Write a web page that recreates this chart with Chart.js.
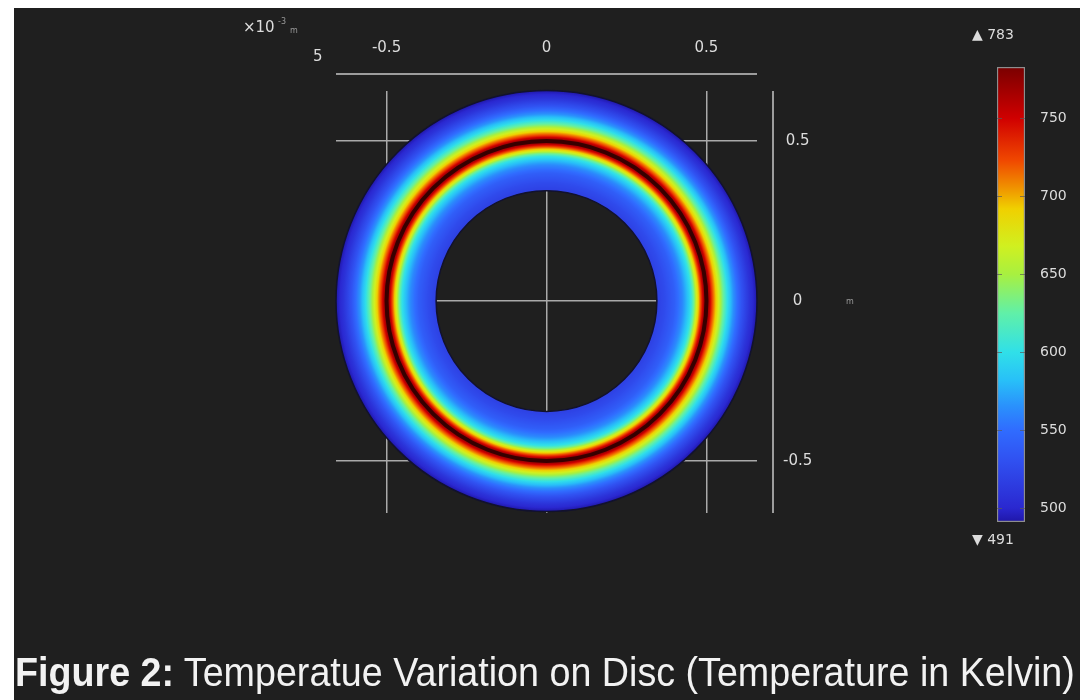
<!DOCTYPE html>
<html>
<head>
<meta charset="utf-8">
<script src="https://cdn.jsdelivr.net/npm/chart.js@4.4.1/dist/chart.umd.min.js"></script>
<style>
  html, body { margin: 0; padding: 0; background: #fff; }
  #page { position: absolute; left: 14px; top: 8px; width: 1066px; height: 692px; background: #1f1f1f; }
  #mainBox { position: absolute; left: 0; top: 0; width: 1081px; height: 700px; }
  #barBox { position: absolute; left: 960px; top: 0; width: 121px; height: 700px; }
  #caption { position: absolute; left: 15px; top: 652px; white-space: nowrap; color: #f2f2f2;
             font-family: "Liberation Sans", sans-serif; font-size: 41px; line-height: 1; transform-origin: 0 0; }
  #caption b { font-weight: 700; }
</style>
</head>
<body>
<div id="page"></div>
<div id="mainBox"><canvas id="disc"></canvas></div>
<div id="barBox"><canvas id="cbar"></canvas></div>
<div id="caption"><b>Figure 2:</b> Temperatue Variation on Disc (Temperature in Kelvin)</div>
<script>
  // radial temperature profile across the disc (x10^-3 m, K)
  const radius      = [0.345, 0.37, 0.40, 0.425, 0.44, 0.452, 0.462, 0.472, 0.482, 0.491, 0.5, 0.509, 0.518, 0.527, 0.538, 0.55, 0.566, 0.585, 0.61, 0.635, 0.658];
  const temperature = [518,   526,  540,  562,   582,  602,   635,   680,   722,   762,   783, 762,   726,   700,   668,   635,  598,   565,   532,  508,   491];

  const xTicks = [-0.5, 0, 0.5];
  const yTicks = [-0.5, 0, 0.5];

  const tMin = 491, tMax = 783;
  const barTicks = [500, 550, 600, 650, 700, 750];

  // rainbow colour table
  const cmapT = [491, 500, 530, 550, 565, 582, 600, 625, 650, 668, 692, 706, 723, 750, 783];
  const cmapC = ['#1f16a8', '#2a28d0', '#3050f0', '#306cff', '#2a90fc', '#28c0f8', '#30e0e8', '#60f0a8',
                 '#a8f040', '#d0f020', '#f0d000', '#f09000', '#f04800', '#d00000', '#7a0000'];

  const txt = '#dcdcdc';

  function rgb(h) { return [1, 3, 5].map(i => parseInt(h.slice(i, i + 2), 16)); }
  function cmap(t) {
    let i = 0;
    while (i < cmapT.length - 2 && t > cmapT[i + 1]) i++;
    const f = Math.max(0, Math.min(1, (t - cmapT[i]) / (cmapT[i + 1] - cmapT[i])));
    const a = rgb(cmapC[i]), b = rgb(cmapC[i + 1]);
    return 'rgb(' + a.map((v, k) => Math.round(v + (b[k] - v) * f)).join(',') + ')';
  }
  function interp(xs, ys, x) {
    let i = 0;
    while (i < xs.length - 2 && x > xs[i + 1]) i++;
    const f = (x - xs[i]) / (xs[i + 1] - xs[i]);
    return ys[i] + (ys[i + 1] - ys[i]) * f;
  }

  const discPlugin = {
    id: 'disc',
    beforeDatasetsDraw(chart) {
      const { ctx, scales: { x, y } } = chart;
      const cx = x.getPixelForValue(0), cy = y.getPixelForValue(0);
      const px = r => x.getPixelForValue(r) - cx;
      const last = radius.length - 1;
      const rIn = px(radius[0]), rOut = px(radius[last]);
      const g = ctx.createRadialGradient(cx, cy, rIn, cx, cy, rOut);
      const steps = 240;
      for (let i = 0; i <= steps; i++) {
        const r = radius[0] + (radius[last] - radius[0]) * i / steps;
        g.addColorStop(i / steps, cmap(interp(radius, temperature, r)));
      }
      ctx.save();
      ctx.beginPath();
      ctx.arc(cx, cy, rOut, 0, Math.PI * 2);
      ctx.arc(cx, cy, rIn, 0, Math.PI * 2, true);
      ctx.fillStyle = g;
      ctx.fill();
      // boundaries
      ctx.strokeStyle = '#12122e';
      ctx.lineWidth = 1.5;
      [rIn, rOut].forEach(r => { ctx.beginPath(); ctx.arc(cx, cy, r, 0, Math.PI * 2); ctx.stroke(); });
      const peak = radius[temperature.indexOf(Math.max(...temperature))];
      ctx.strokeStyle = 'rgba(45,0,0,0.9)';
      ctx.lineWidth = 4;
      ctx.beginPath(); ctx.arc(cx, cy, px(peak), 0, Math.PI * 2); ctx.stroke();
      ctx.restore();
    },
    afterDraw(chart) {
      const { ctx, chartArea: a } = chart;
      ctx.save();
      ctx.strokeStyle = '#9c9c9c';
      ctx.lineWidth = 2;
      ctx.beginPath();
      ctx.moveTo(a.left, a.top - 17); ctx.lineTo(a.right, a.top - 17);
      ctx.moveTo(a.right + 16, a.top); ctx.lineTo(a.right + 16, a.bottom);
      ctx.stroke();
      ctx.fillStyle = txt;
      ctx.textBaseline = 'middle';
      ctx.font = '15px "DejaVu Sans"';
      ctx.fillText('\u00d710', 243, 28);
      ctx.fillText('5', 313, 57);
      ctx.fillStyle = '#9a9a9a';
      ctx.font = '8px "DejaVu Sans"';
      ctx.fillText('-3', 278, 22);
      ctx.fillText('m', 290, 31);
      ctx.fillText('m', 846, 302);
      ctx.restore();
    }
  };

  new Chart(document.getElementById('disc'), {
    type: 'scatter',
    data: { datasets: [] },
    options: {
      responsive: true,
      maintainAspectRatio: false,
      animation: false,
      layout: { padding: { left: 336, top: 0, right: 224, bottom: 187 } },
      plugins: { legend: { display: false }, tooltip: { enabled: false } },
      scales: {
        x: {
          type: 'linear', position: 'top', min: -0.658, max: 0.658,
          afterBuildTicks: s => { s.ticks = xTicks.map(v => ({ value: v })); },
          afterFit: s => { s.height = 91; },
          grid: { color: '#a9a9a9', lineWidth: 1.5, drawTicks: false },
          border: { display: false },
          ticks: { color: txt, font: { family: 'DejaVu Sans', size: 15 }, padding: 34, maxRotation: 0,
                   callback: v => String(v) }
        },
        y: {
          type: 'linear', position: 'right', min: -0.662, max: 0.656,
          afterBuildTicks: s => { s.ticks = yTicks.map(v => ({ value: v })); },
          afterFit: s => { s.width = 100; },
          grid: { color: '#a9a9a9', lineWidth: 1.5, drawTicks: false },
          border: { display: false },
          ticks: { color: txt, font: { family: 'DejaVu Sans', size: 15 }, padding: 26, crossAlign: 'center',
                   callback: v => String(v) }
        }
      }
    },
    plugins: [discPlugin]
  });

  function barGradient(chart) {
    const { ctx, chartArea, scales } = chart;
    if (!chartArea) return null;
    const y = scales.y;
    const g = ctx.createLinearGradient(0, y.getPixelForValue(tMin), 0, y.getPixelForValue(tMax));
    cmapT.forEach((t, i) => g.addColorStop((t - tMin) / (tMax - tMin), cmapC[i]));
    return g;
  }

  const barPlugin = {
    id: 'barLabels',
    afterDatasetsDraw(chart) {
      const { ctx, chartArea: a, scales: { y } } = chart;
      ctx.save();
      ctx.strokeStyle = 'rgba(90,90,90,0.7)';
      ctx.lineWidth = 1;
      barTicks.forEach(t => {
        const py = Math.round(y.getPixelForValue(t)) + 0.5;
        ctx.beginPath();
        ctx.moveTo(a.left, py); ctx.lineTo(a.left + 5, py);
        ctx.moveTo(a.right - 5, py); ctx.lineTo(a.right, py);
        ctx.stroke();
      });
      ctx.fillStyle = txt;
      ctx.font = '14px "DejaVu Sans"';
      ctx.textBaseline = 'middle';
      ctx.fillText('\u25b2 ' + tMax, a.left - 25, y.getPixelForValue(tMax) - 32);
      ctx.fillText('\u25bc ' + tMin, a.left - 25, y.getPixelForValue(tMin) + 18);
      ctx.restore();
    }
  };

  new Chart(document.getElementById('cbar'), {
    type: 'bar',
    data: {
      labels: ['T'],
      datasets: [{
        data: [[tMin, tMax]],
        backgroundColor: c => barGradient(c.chart),
        borderColor: '#8e8e8e',
        borderWidth: 1.5,
        borderSkipped: false,
        barPercentage: 1,
        categoryPercentage: 1
      }]
    },
    options: {
      responsive: true,
      maintainAspectRatio: false,
      animation: false,
      layout: { padding: { left: 37, top: 67, right: 6, bottom: 178 } },
      plugins: { legend: { display: false }, tooltip: { enabled: false } },
      scales: {
        x: { display: false },
        y: {
          position: 'right', min: tMin, max: tMax,
          afterBuildTicks: s => { s.ticks = barTicks.map(v => ({ value: v })); },
          afterFit: s => { s.width = 50; },
          grid: { display: false, drawTicks: false },
          border: { display: false },
          ticks: { color: txt, font: { family: 'DejaVu Sans', size: 14 }, padding: 15 }
        }
      }
    },
    plugins: [barPlugin]
  });

  const cap = document.getElementById('caption');
  cap.style.transform = 'scaleX(' + (1060 / cap.offsetWidth) + ')';
</script>
</body>
</html>
